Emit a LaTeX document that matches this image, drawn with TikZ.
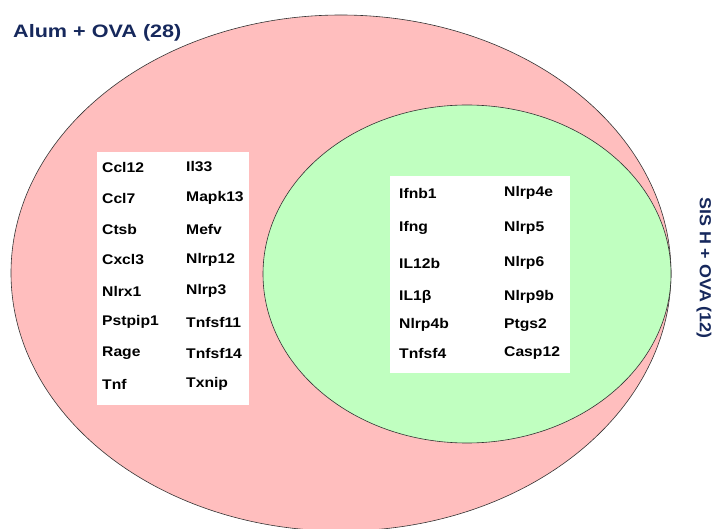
\documentclass[tikz,border=0pt]{standalone}
\usepackage{fontspec}
\usetikzlibrary{shapes.geometric}
\newfontfamily\genefont{Liberation Sans}[FakeStretch=1.12]
\newfontfamily\titlefont{Liberation Sans}[FakeStretch=1.2]
\definecolor{alumfill}{RGB}{255,190,190}
\definecolor{sisfill}{RGB}{192,255,192}
\definecolor{setlabel}{RGB}{22,40,92}
\tikzset{
  setshape/.style={ellipse, draw=black!80, line width=0.6pt, inner sep=0pt},
  listbox/.style={fill=white, draw=none, inner sep=0pt, anchor=north west},
  gene/.style={anchor=west, inner sep=0pt, font=\genefont\bfseries\fontsize{14}{16}\selectfont},
  setname/.style={inner sep=0pt, text=setlabel}
}
\begin{document}
\begin{tikzpicture}[x=1pt, y=-1pt]
\useasboundingbox (0,0) rectangle (715,529);
\clip (0,0) rectangle (715,529);

% the two sets
\node[setshape, fill=alumfill, minimum width=660pt, minimum height=516pt] (alum) at (341,273) {};
\node[setshape, fill=sisfill, minimum width=408pt, minimum height=338pt] (sis) at (467,274) {};

% white panels holding the gene lists
\path (97,152) node[listbox, minimum width=152pt, minimum height=253pt] (leftbox) {};
\path (390,176) node[listbox, minimum width=180pt, minimum height=197pt] (rightbox) {};

% genes found only with Alum + OVA
\foreach \g [count=\i] in {Ccl12,Ccl7,Ctsb,Cxcl3,Nlrx1,Pstpip1,Rage,Tnf}
  \node[gene] (la\i) at (102,{167+31*(\i-1)}) {\g};
\foreach \g [count=\i] in {Il33,Mapk13,Mefv,Nlrp12,Nlrp3,Tnfsf11,Tnfsf14,Txnip}
  \node[gene] (lb\i) at (186,{167+31*(\i-1)}) {\g};

% genes shared with SIS H + OVA
\foreach \g/\y [count=\i] in {Ifnb1/193,Ifng/228,IL12b/263,IL1β/297,Nlrp4b/325,Tnfsf4/353}
  \node[gene] (ra\i) at (399,\y) {\g};
\foreach \g/\y [count=\i] in {Nlrp4e/193,Nlrp5/228,Nlrp6/263,Nlrp9b/297,Ptgs2/325,Casp12/353}
  \node[gene] (rb\i) at (504,\y) {\g};

% set names
\node[setname, anchor=west, font=\titlefont\bfseries\fontsize{18}{20}\selectfont] (alumname) at (13,33) {Alum + OVA (28)};
\node[setname, rotate=-90, font=\genefont\bfseries\fontsize{16}{18}\selectfont] (sisname) at (704,268) {SIS H + OVA (12)};
\end{tikzpicture}
\end{document}
